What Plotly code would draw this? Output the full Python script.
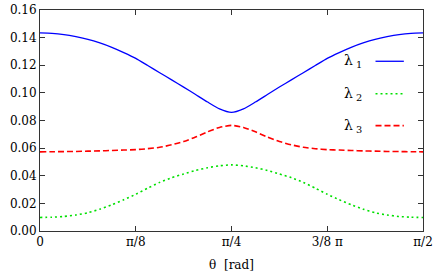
import math
import plotly.graph_objects as go

# theta sample positions, in multiples of pi/32
theta_k = [0, 0.5, 1, 1.5, 2, 2.5, 3, 3.5, 4, 4.5, 5, 5.5, 6, 6.5, 7, 7.5, 8,
           8.5, 9, 9.5, 10, 10.5, 11, 11.5, 12, 12.5, 13, 13.5, 14, 14.5, 15, 15.5, 16]
lambda1 = [0.1434, 0.1431, 0.1422, 0.1407, 0.1388, 0.1362, 0.1330, 0.1292, 0.1250,
           0.1198, 0.1146, 0.1094, 0.1042, 0.0988, 0.0934, 0.0884, 0.0859,
           0.0884, 0.0934, 0.0988, 0.1042, 0.1094, 0.1146, 0.1198, 0.1250,
           0.1292, 0.1330, 0.1362, 0.1388, 0.1407, 0.1422, 0.1431, 0.1434]
lambda2 = [0.0098, 0.0100, 0.0105, 0.0116, 0.0132, 0.0158, 0.0190, 0.0226, 0.0266,
           0.0310, 0.0352, 0.0386, 0.0413, 0.0438, 0.0458, 0.0472, 0.0479,
           0.0472, 0.0458, 0.0438, 0.0413, 0.0386, 0.0352, 0.0310, 0.0266,
           0.0226, 0.0190, 0.0158, 0.0132, 0.0116, 0.0105, 0.0100, 0.0098]
lambda3 = [0.0573, 0.0574, 0.0575, 0.0576, 0.0578, 0.0580, 0.0583, 0.0586, 0.0589,
           0.0596, 0.0606, 0.0624, 0.0648, 0.0680, 0.0718, 0.0750, 0.0765,
           0.0750, 0.0718, 0.0680, 0.0648, 0.0624, 0.0606, 0.0596, 0.0589,
           0.0586, 0.0583, 0.0580, 0.0578, 0.0576, 0.0575, 0.0574, 0.0573]

x_tickvals = [0, math.pi / 8, math.pi / 4, 3 * math.pi / 8, math.pi / 2]
x_ticktext = ["0", "π/8", "π/4", "3/8 π", "π/2"]
y_tickvals = [0.00, 0.02, 0.04, 0.06, 0.08, 0.10, 0.12, 0.14, 0.16]
y_ticktext = ["0.00", "0.02", "0.04", "0.06", "0.08", "0.10", "0.12", "0.14", "0.16"]

theta = [k * math.pi / 32 for k in theta_k]

FONT = "DejaVu Serif"
BLUE = "#0000ff"
GREEN = "#00e000"
RED = "#ff0000"

fig = go.Figure()
fig.add_trace(go.Scatter(x=theta, y=lambda1, mode="lines",
                         line=dict(color=BLUE, width=1.3, shape="spline", smoothing=0.6),
                         showlegend=False))
fig.add_trace(go.Scatter(x=theta, y=lambda2, mode="lines",
                         line=dict(color=GREEN, width=1.6, dash="2px,3px", shape="spline", smoothing=0.6),
                         showlegend=False))
fig.add_trace(go.Scatter(x=theta, y=lambda3, mode="lines",
                         line=dict(color=RED, width=1.6, dash="6px,3px", shape="spline", smoothing=0.6),
                         showlegend=False))

# legend drawn manually (text on left, sample on right)
legend = [("λ<sub> 1</sub>", BLUE, "solid", 1.3, 0.768),
          ("λ<sub> 2</sub>", GREEN, "2px,3px", 1.6, 0.621),
          ("λ<sub> 3</sub>", RED, "6px,3px", 1.6, 0.477)]
for label, col, dash, w, yy in legend:
    fig.add_annotation(x=0.845, y=yy, xref="paper", yref="paper", text=label,
                       showarrow=False, xanchor="right", yanchor="middle",
                       font=dict(family=FONT, size=14, color="black"))
    fig.add_shape(type="line", xref="paper", yref="paper", x0=0.876, x1=0.95, y0=yy, y1=yy,
                  line=dict(color=col, width=w, dash=dash))

axis_common = dict(showline=True, linecolor="#333333", linewidth=1, mirror="ticks",
                   ticks="inside", ticklen=5, tickcolor="#333333", showgrid=False,
                   zeroline=False, ticklabeloverflow="allow",
                   tickfont=dict(family=FONT, size=12, color="black"))

fig.update_xaxes(range=[0, math.pi / 2], tickvals=x_tickvals, ticktext=x_ticktext,
                 title=dict(text="θ  [rad]", font=dict(family=FONT, size=12, color="black"), standoff=12),
                 **axis_common)
fig.update_yaxes(range=[0, 0.16], tickvals=y_tickvals, ticktext=y_ticktext, **axis_common)

fig.update_layout(width=436, height=276, margin=dict(l=40, r=10, t=3, b=45),
                  plot_bgcolor="white", paper_bgcolor="white",
                  font=dict(family=FONT, size=12, color="black"))

fig.write_html("out.html", config={"displayModeBar": False},
               post_script="document.body.style.margin='0';document.body.style.padding='0';")
